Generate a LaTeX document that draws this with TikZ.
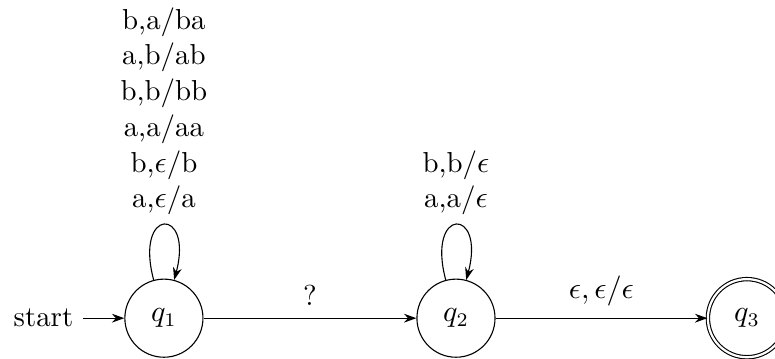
\documentclass[tikz,border=0pt]{standalone}
\usetikzlibrary{arrows.meta}
\begin{document}
\begin{tikzpicture}[x=1pt,y=1pt,
  every node/.style={font=\fontsize{10.5}{13}\selectfont},
  >={Stealth[length=4.5pt,width=3.2pt]},
  stt/.style={circle,draw,minimum size=28.4pt,inner sep=0pt},
  acc/.style={stt,double,double distance=0.8pt},
  selfloop/.style={loop above,looseness=9.5},
  lbl/.style={above,align=center}]
\useasboundingbox (0,0) rectangle (281.8,130.2);
\node[stt] (q1) at (59.6,14.5) {$q_1$};
\node[stt] (q2) at (165.8,14.5) {$q_2$};
\node[acc] (q3) at (271.6,14.5) {$q_3$};
\node (start) at (15.8,14.5) {start};
\draw[->] (start) -- (q1);
\draw[->] (q1) -- node[above,yshift=1pt] {?} (q2);
\draw[->] (q2) -- node[above,yshift=1pt] {$\epsilon, \epsilon/\epsilon$} (q3);
\path[->] (q1) edge[selfloop] node[lbl] {b,a/ba\\a,b/ab\\b,b/bb\\a,a/aa\\b,$\epsilon$/b\\a,$\epsilon$/a} (q1);
\path[->] (q2) edge[selfloop] node[lbl] {b,b/$\epsilon$\\a,a/$\epsilon$} (q2);
\end{tikzpicture}
\end{document}
